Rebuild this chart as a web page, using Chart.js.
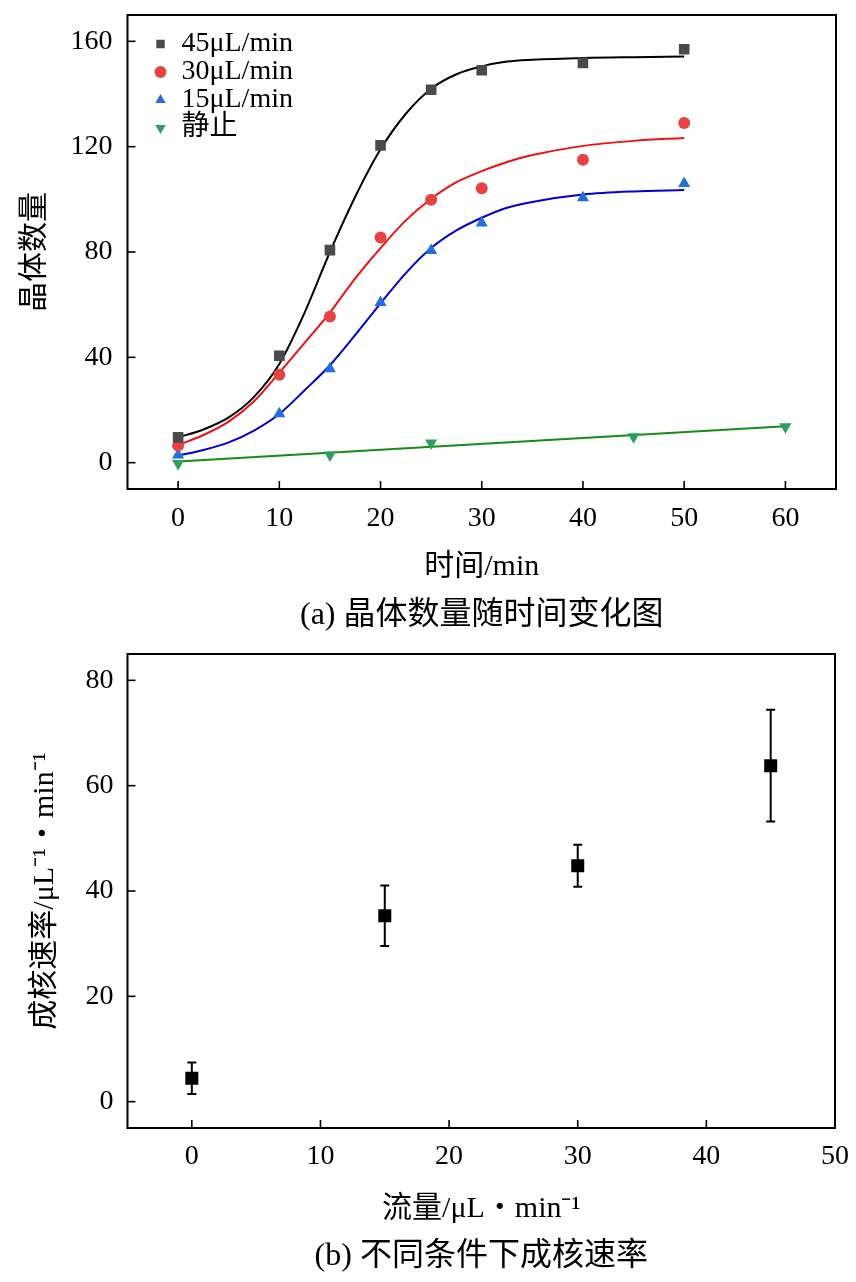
<!DOCTYPE html>
<html><head><meta charset="utf-8">
<title>晶体数量随时间变化 / 成核速率</title>
<script src="https://cdn.jsdelivr.net/npm/chart.js@4.4.1/dist/chart.umd.min.js"></script>
<style>
html,body{margin:0;padding:0;background:#fff;width:856px;overflow:hidden;}
canvas{display:block;}
</style></head><body>
<canvas id="chartA" width="856" height="641"></canvas>
<canvas id="chartB" width="856" height="641"></canvas>
<script>
// ===== (a) 晶体数量随时间变化图 =====
const timeTicks = [0, 10, 20, 30, 40, 50, 60];
const countTicks = [0, 40, 80, 120, 160];
const seriesNames = ['45μL/min', '30μL/min', '15μL/min', '静止'];
const time45 = [0, 10, 15, 20, 25, 30, 40, 50];
const count45 = [9.6, 40.6, 80.7, 120.5, 141.6, 149.0, 151.8, 157.0];
const time30 = [0, 10, 15, 20, 25, 30, 40, 50];
const count30 = [6.5, 33.4, 55.5, 85.5, 99.8, 104.2, 115.0, 129.0];
const time15 = [0, 10, 15, 20, 25, 30, 40, 50];
const count15 = [2.9, 18.6, 35.7, 60.8, 80.6, 91.0, 100.6, 106.0];
const timeStatic = [0, 15, 25, 45, 60];
const countStatic = [-0.3, 2.9, 7.5, 9.8, 13.6];
// fitted curves
const fitTime = [0, 2.5, 5, 7.5, 10, 12.5, 15, 17.5, 20, 22.5, 25, 27.5, 30, 32.5, 35, 40, 45, 50];
const fit45 = [9.6, 12.6, 17.2, 25.0, 37.5, 57.0, 80.0, 101.0, 119.0, 132.5, 142.0, 147.5, 150.5, 152.3, 153.0, 153.7, 154.0, 154.2];
const fit30 = [6.7, 10.5, 15.6, 23.3, 34.2, 45.5, 57.0, 70.0, 81.5, 92.0, 100.2, 106.5, 110.7, 114.2, 116.8, 120.3, 122.2, 123.3];
const fit15 = [2.7, 4.8, 7.7, 12.2, 18.5, 27.5, 37.0, 48.5, 60.5, 72.0, 81.5, 88.2, 93.0, 96.8, 99.0, 101.8, 103.0, 103.5];
const fitStaticTime = [0, 60];
const fitStatic = [0.4, 13.8];

// ===== (b) 不同条件下成核速率 =====
const flowTicks = [0, 10, 20, 30, 40, 50];
const rateTicks = [0, 20, 40, 60, 80];
const flow = [0, 15, 30, 45];
const rate = [4.45, 35.3, 44.8, 63.8];
const rateErr = [3.0, 5.75, 4.0, 10.6];

const SERIF = '"Liberation Serif", "Noto Sans CJK SC", serif';
const pts = (xs, ys) => xs.map((x, i) => ({x: x, y: ys[i]}));

const frameTicks = {
  id: 'frameTicks',
  afterDraw(chart) {
    const ctx = chart.ctx, a = chart.chartArea;
    const xs = chart.scales.x, ys = chart.scales.y;
    const L = 8;
    ctx.save();
    ctx.strokeStyle = '#000';
    ctx.lineWidth = 1.6;
    xs.ticks.forEach(t => {
      const p = xs.getPixelForValue(t.value);
      if (p > a.right - 2 || p < a.left + 2) return;
      ctx.beginPath(); ctx.moveTo(p, a.bottom); ctx.lineTo(p, a.bottom - L); ctx.stroke();
    });
    ys.ticks.forEach(t => {
      const p = ys.getPixelForValue(t.value);
      if (p < a.top + 2 || p > a.bottom - 2) return;
      ctx.beginPath(); ctx.moveTo(a.left, p); ctx.lineTo(a.left + L, p); ctx.stroke();
    });
    ctx.lineWidth = 2;
    ctx.strokeRect(a.left, a.top, a.right - a.left, a.bottom - a.top);
    ctx.restore();
  }
};

const legendShift = {
  id: 'legendShift',
  afterLayout(chart) {
    const lg = chart.legend;
    if (!lg) return;
    lg.left = chart.chartArea.left + 26;
    lg.top = chart.chartArea.top + 15;
  }
};

const errorBars = {
  id: 'errorBars',
  beforeDatasetsDraw(chart) {
    const ctx = chart.ctx, xs = chart.scales.x, ys = chart.scales.y;
    ctx.save();
    ctx.strokeStyle = '#000';
    ctx.lineWidth = 2;
    flow.forEach((f, i) => {
      const px = xs.getPixelForValue(f);
      const top = ys.getPixelForValue(rate[i] + rateErr[i]);
      const bot = ys.getPixelForValue(rate[i] - rateErr[i]);
      ctx.beginPath();
      ctx.moveTo(px, top); ctx.lineTo(px, bot);
      ctx.moveTo(px - 4.5, top); ctx.lineTo(px + 4.5, top);
      ctx.moveTo(px - 4.5, bot); ctx.lineTo(px + 4.5, bot);
      ctx.stroke();
    });
    ctx.restore();
  }
};

function axis(min, max, tickVals, pad, titleText, titlePad, size) {
  return {
    type: 'linear', min: min, max: max,
    afterBuildTicks: s => { s.ticks = tickVals.map(v => ({value: v})); },
    afterFit: s => {
      if (s.isHorizontal()) { s.height = size; s.paddingLeft = 0; s.paddingRight = 0; }
      else { s.width = size; s.paddingTop = 0; s.paddingBottom = 0; }
    },
    grid: {display: false, drawTicks: false},
    border: {display: false},
    ticks: {color: '#000', font: {family: SERIF, size: 28}, padding: pad, maxRotation: 0, autoSkip: false},
    title: {display: true, text: titleText, color: '#000', font: {family: SERIF, size: 30}, padding: titlePad}
  };
}

function caption(text) {
  return {display: true, position: 'bottom', fullSize: false, text: text, color: '#000',
          font: {family: SERIF, size: 32, weight: 'normal'}, padding: {top: 0, bottom: 6}};
}

const fitLine = (xs, ys, color) => ({
  label: 'fit', data: pts(xs, ys), showLine: true, pointRadius: 0, borderColor: color,
  borderWidth: 2, cubicInterpolationMode: 'monotone', fill: false
});

new Chart(document.getElementById('chartA'), {
  type: 'scatter',
  data: {
    datasets: [
      {label: seriesNames[0], data: pts(time45, count45), pointStyle: 'rect', pointRadius: 7.5,
       backgroundColor: '#4a4a4a', borderColor: '#4a4a4a', pointBorderWidth: 0},
      {label: seriesNames[1], data: pts(time30, count30), pointStyle: 'circle', pointRadius: 6,
       backgroundColor: '#e84343', borderColor: '#e84343', pointBorderWidth: 0},
      {label: seriesNames[2], data: pts(time15, count15), pointStyle: 'triangle', pointRadius: 7,
       backgroundColor: '#2270dc', borderColor: '#2270dc', pointBorderWidth: 0},
      {label: seriesNames[3], data: pts(timeStatic, countStatic), pointStyle: 'triangle', pointRotation: 180, pointRadius: 7,
       backgroundColor: '#2e9f5e', borderColor: '#2e9f5e', pointBorderWidth: 0},
      fitLine(fitTime, fit45, '#000000'),
      fitLine(fitTime, fit30, '#ee1111'),
      fitLine(fitTime, fit15, '#0000d0'),
      fitLine(fitStaticTime, fitStatic, '#158c15')
    ]
  },
  options: {
    responsive: false, animation: false, devicePixelRatio: 1,
    layout: {padding: {top: 15, right: 20, left: 0, bottom: 0}},
    scales: {
      x: axis(-5, 65, timeTicks, 13, '时间/min', {top: 0, bottom: 11.6}, 107.6),
      y: axis(-10, 170, countTicks, 15, '晶体数量', {top: 17, bottom: 0}, 127.5)
    },
    plugins: {
      legend: {
        position: 'chartArea', align: 'start',
        labels: {usePointStyle: true, boxWidth: 14, boxHeight: 8.5, color: '#000', padding: 0,
                 font: {family: SERIF, size: 28},
                 filter: item => item.datasetIndex < 4}
      },
      title: caption('(a) 晶体数量随时间变化图'),
      tooltip: {enabled: false}
    }
  },
  plugins: [frameTicks, legendShift]
});

new Chart(document.getElementById('chartB'), {
  type: 'scatter',
  data: {
    datasets: [
      {label: '成核速率', data: pts(flow, rate), pointStyle: 'rect', pointRadius: 9.2,
       backgroundColor: '#000', borderColor: '#000', pointBorderWidth: 0}
    ]
  },
  options: {
    responsive: false, animation: false, devicePixelRatio: 1,
    layout: {padding: {top: 13, right: 21, left: 0, bottom: 0}},
    scales: {
      x: axis(-5, 50, flowTicks, 12, '流量/μL・min⁻¹', {top: 0, bottom: 10.6}, 109.6),
      y: axis(-5, 85, rateTicks, 14, '成核速率/μL⁻¹・min⁻¹', {top: 27, bottom: 0}, 127.5)
    },
    plugins: {
      legend: {display: false},
      title: caption('(b) 不同条件下成核速率'),
      tooltip: {enabled: false}
    }
  },
  plugins: [errorBars, frameTicks]
});
</script>
</body></html>
